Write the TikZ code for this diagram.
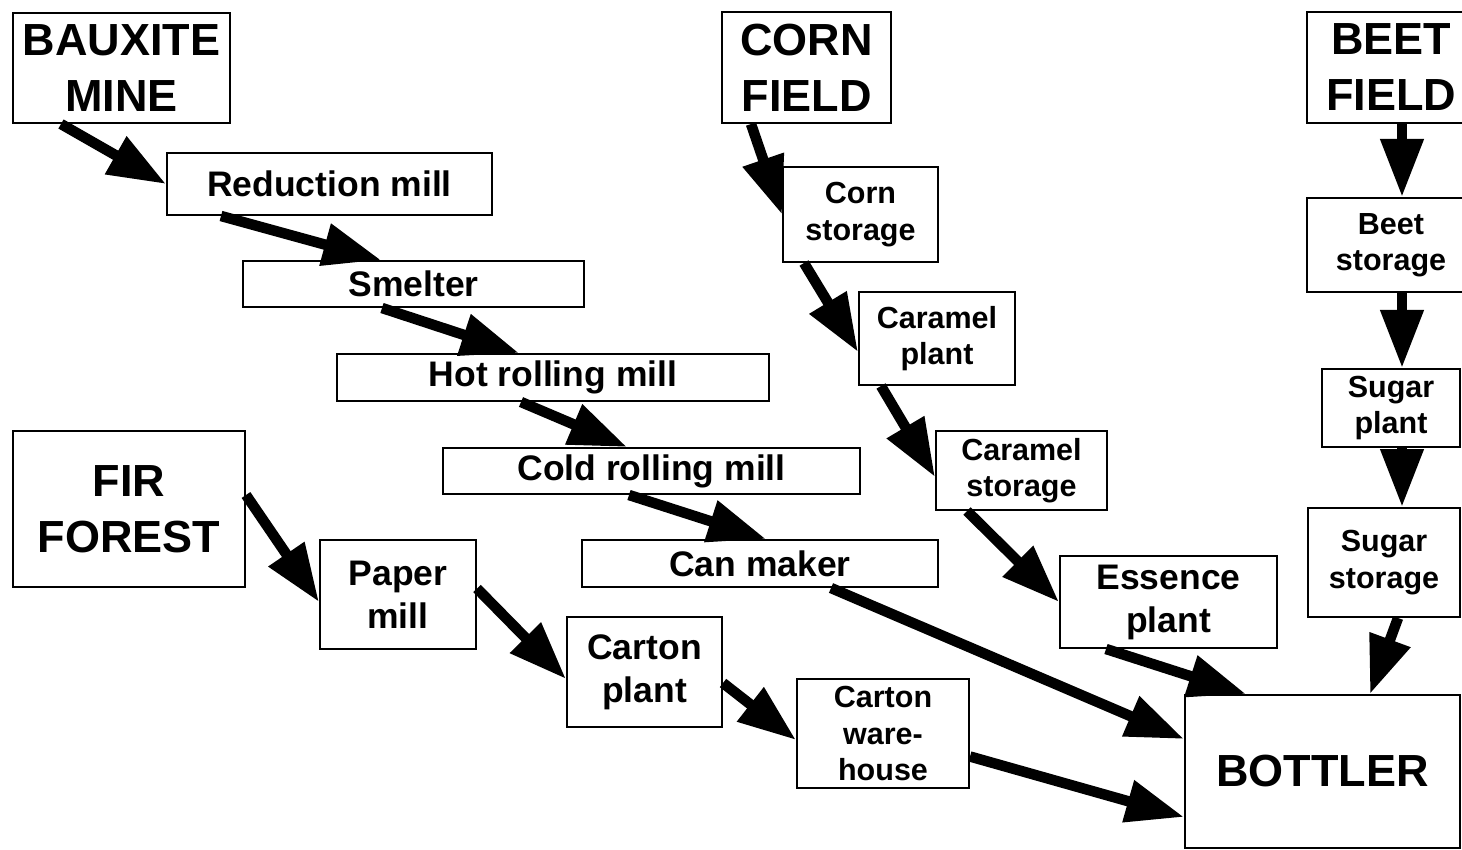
\documentclass[tikz,border=0pt]{standalone}
\usepackage{fontspec}
\setmainfont{Liberation Sans}
\usetikzlibrary{arrows.meta}
\begin{document}
\begin{tikzpicture}[x=1pt,y=-1pt,
  box/.style={draw, line width=2pt, inner sep=0pt, align=center, fill=white},
  bigtxt/.style={font=\fontsize{45}{56}\selectfont\bfseries},
  medtxt/.style={font=\fontsize{35.5}{43}\selectfont\bfseries},
  smalltxt/.style={font=\fontsize{30.5}{36.5}\selectfont\bfseries},
  flow/.style={line width=10.5pt, -{Triangle[length=58pt, width=41pt]}}]
\useasboundingbox (0,0) rectangle (1462,850);
\fill[white] (0,0) rectangle (1462,850);
\clip (0,0) rectangle (1462,850);
% aluminium chain
\node[box,bigtxt,minimum width=217pt,minimum height=110pt] (bauxite) at (121.5,68) {BAUXITE\\MINE};
\node[box,medtxt,minimum width=325pt,minimum height=62pt] (reduction) at (329.5,184) {Reduction mill};
\node[box,medtxt,minimum width=341pt,minimum height=46pt] (smelter) at (413.5,284) {Smelter};
\node[box,medtxt,minimum width=432pt,minimum height=47pt] (hot) at (553,377.5) {Hot rolling mill};
\node[box,medtxt,minimum width=417pt,minimum height=46pt] (cold) at (651.5,471) {Cold rolling mill};
\node[box,medtxt,minimum width=356pt,minimum height=47pt] (can) at (760,563.5) {Can maker};
% carton chain
\node[box,bigtxt,minimum width=232pt,minimum height=156pt] (fir) at (129,509) {FIR\\FOREST};
\node[box,medtxt,minimum width=156pt,minimum height=109pt] (paper) at (398,594.5) {Paper\\mill};
\node[box,medtxt,minimum width=155pt,minimum height=110pt] (cartonplant) at (644.5,672) {Carton\\plant};
\node[box,smalltxt,minimum width=172pt,minimum height=109pt] (warehouse) at (883,733.5) {Carton\\ware-\\house};
% corn chain
\node[box,bigtxt,minimum width=169pt,minimum height=111pt] (corn) at (806.5,67.5) {CORN\\FIELD};
\node[box,smalltxt,minimum width=155pt,minimum height=95pt] (cornst) at (860.5,214.5) {Corn\\storage};
\node[box,smalltxt,minimum width=156pt,minimum height=93pt] (caramelplant) at (937,338.5) {Caramel\\plant};
\node[box,smalltxt,minimum width=171pt,minimum height=79pt] (caramelst) at (1021.5,470.5) {Caramel\\storage};
\node[box,medtxt,minimum width=217pt,minimum height=92pt] (essence) at (1168.5,602) {Essence\\plant};
% beet chain
\node[box,bigtxt,minimum width=168pt,minimum height=111pt] (beet) at (1391,67.5) {BEET\\FIELD};
\node[box,smalltxt,minimum width=168pt,minimum height=94pt] (beetst) at (1391,245) {Beet\\storage};
\node[box,smalltxt,minimum width=138pt,minimum height=78pt] (sugarplant) at (1391,408) {Sugar\\plant};
\node[box,smalltxt,minimum width=152pt,minimum height=109pt] (sugarst) at (1384,562.5) {Sugar\\storage};
% bottler
\node[box,bigtxt,minimum width=275pt,minimum height=153pt] (bottler) at (1322.5,771.5) {BOTTLER};
% connectors
\draw[flow] ([xshift=49pt]bauxite.south west) -- (reduction.west);
\draw[flow] ([xshift=55pt]reduction.south west) -- ([xshift=139pt]smelter.north west);
\draw[flow] ([xshift=140pt]smelter.south west) -- ([xshift=183pt]hot.north west);
\draw[flow] ([xshift=185pt]hot.south west) -- ([xshift=185pt]cold.north west);
\draw[flow] ([xshift=187pt]cold.south west) -- ([xshift=185pt]can.north west);
\draw[flow] ([xshift=250pt]can.south west) -- ([yshift=-45pt]bottler.north west);
\draw[flow] ([yshift=14pt]fir.east) -- ([yshift=-7.5pt]paper.west);
\draw[flow] ([yshift=6pt]paper.east) -- ([yshift=-7pt]cartonplant.west);
\draw[flow] ([yshift=-11pt]cartonplant.east) -- ([yshift=-6.5pt]warehouse.west);
\draw[flow] ([yshift=-23pt]warehouse.east) -- ([yshift=-45.5pt]bottler.west);
\draw[flow] ([xshift=30pt]corn.south west) -- (cornst.west);
\draw[flow] ([xshift=22pt]cornst.south west) -- ([yshift=-13.5pt]caramelplant.west);
\draw[flow] ([xshift=23pt]caramelplant.south west) -- ([yshift=-6.5pt]caramelst.west);
\draw[flow] ([xshift=32pt]caramelst.south west) -- (essence.west);
\draw[flow] ([xshift=47pt]essence.south west) -- ([xshift=62pt]bottler.north west);
\draw[flow] ([xshift=11pt]beet.south) -- ([xshift=11pt]beetst.north);
\draw[flow] ([xshift=11pt]beetst.south) -- ([xshift=11pt]sugarplant.north);
\draw[flow] ([xshift=11pt]sugarplant.south) -- ([xshift=18pt]sugarst.north);
\draw[flow] ([xshift=14pt]sugarst.south) -- ([xshift=47.5pt]bottler.north);
\end{tikzpicture}
\end{document}
